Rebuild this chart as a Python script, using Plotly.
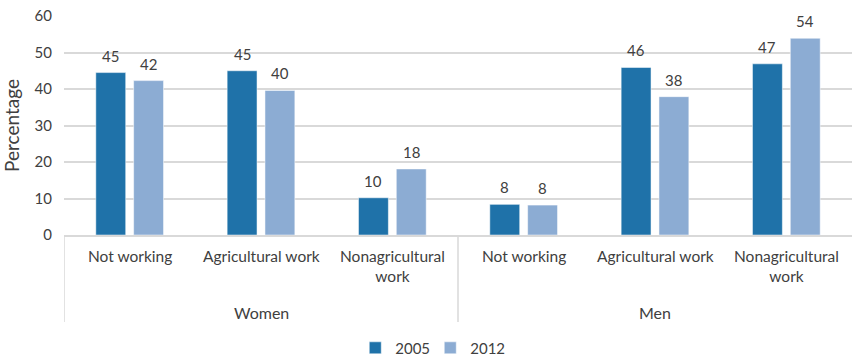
import plotly.graph_objects as go

groups = ["Women", "Men"]
activities = ["Not working", "Agricultural work", "Nonagricultural<br>work",
              "Not working", "Agricultural work", "Nonagricultural<br>work"]
values_2005 = [44.5, 45.0, 10.2, 8.4, 45.9, 46.9]
values_2012 = [42.3, 39.6, 18.1, 8.2, 37.9, 53.9]
labels_2005 = [45, 45, 10, 8, 46, 47]
labels_2012 = [42, 40, 18, 8, 38, 54]
y_ticks = [0, 10, 20, 30, 40, 50, 60]

FONT = "Lato"
TXT = "#404040"
GRID = "#d9d9d9"
C2005 = "#1F72A9"
C2012 = "#8CACD3"
BARGAP = 0.424

pos = list(range(len(activities)))
per_group = len(activities) // len(groups)

fig = go.Figure()
fig.add_trace(go.Bar(name="2005", x=pos, y=values_2005,
                     marker=dict(color=C2005, line=dict(color="#ffffff", width=0.5))))
fig.add_trace(go.Bar(name="2012", x=pos, y=values_2012,
                     marker=dict(color=C2012, line=dict(color="#ffffff", width=0.5))))

ann = []
off = (1 - BARGAP) / 4
for i, (v, t) in enumerate(zip(values_2005, labels_2005)):
    ann.append(dict(x=i - off, y=v, xref="x", yref="y", text=str(t), showarrow=False,
                    yanchor="bottom", yshift=6, font=dict(family=FONT, size=15, color=TXT)))
for i, (v, t) in enumerate(zip(values_2012, labels_2012)):
    ann.append(dict(x=i + off, y=v, xref="x", yref="y", text=str(t), showarrow=False,
                    yanchor="bottom", yshift=6, font=dict(family=FONT, size=15, color=TXT)))
# category labels
for i, a in enumerate(activities):
    ann.append(dict(x=i, y=0, xref="x", yref="paper", text=a, showarrow=False,
                    yanchor="top", yshift=-10, font=dict(family=FONT, size=15.5, color=TXT)))
# group labels
for g, name in enumerate(groups):
    cx = g * per_group + (per_group - 1) / 2
    ann.append(dict(x=cx, y=0, xref="x", yref="paper", text=name, showarrow=False,
                    yanchor="middle", yshift=-77, font=dict(family=FONT, size=16, color=TXT)))

shapes = []
for g in range(len(groups)):
    xb = g * per_group - 0.5
    shapes.append(dict(type="line", xref="x", yref="paper", x0=xb, x1=xb, y0=0, y1=-87 / 219,
                       line=dict(color=GRID, width=1.5)))

fig.update_layout(
    width=852, height=357,
    margin=dict(l=64, r=0, t=16, b=122, autoexpand=False),
    paper_bgcolor="white", plot_bgcolor="white",
    barmode="group", bargap=BARGAP, bargroupgap=0.21,
    font=dict(family=FONT, size=15, color=TXT),
    showlegend=True,
    legend=dict(orientation="h", xref="container", yref="container",
                x=0.505, xanchor="center", y=0.025, yanchor="middle",
                font=dict(family=FONT, size=15, color=TXT), itemwidth=30,
                entrywidth=30, entrywidthmode="pixels",
                tracegroupgap=0),
    annotations=ann, shapes=shapes,
    xaxis=dict(range=[-0.5, len(activities) - 0.5], showticklabels=False, showgrid=False,
               zeroline=False, showline=True, linecolor=GRID, linewidth=2, ticks="",
               automargin=False),
    yaxis=dict(range=[0, 60], tickvals=y_ticks, showgrid=True, gridcolor=GRID, gridwidth=1.5,
               zeroline=False, ticks="", ticklabelstandoff=11,
               tickfont=dict(family=FONT, size=15, color=TXT), automargin=False,
               title=dict(text="Percentage", font=dict(family=FONT, size=19, color=TXT), standoff=9)),
)

fig.write_html("out.html", config={"displayModeBar": False},
               post_script="document.body.style.margin='0px';document.body.style.overflow='hidden';")
